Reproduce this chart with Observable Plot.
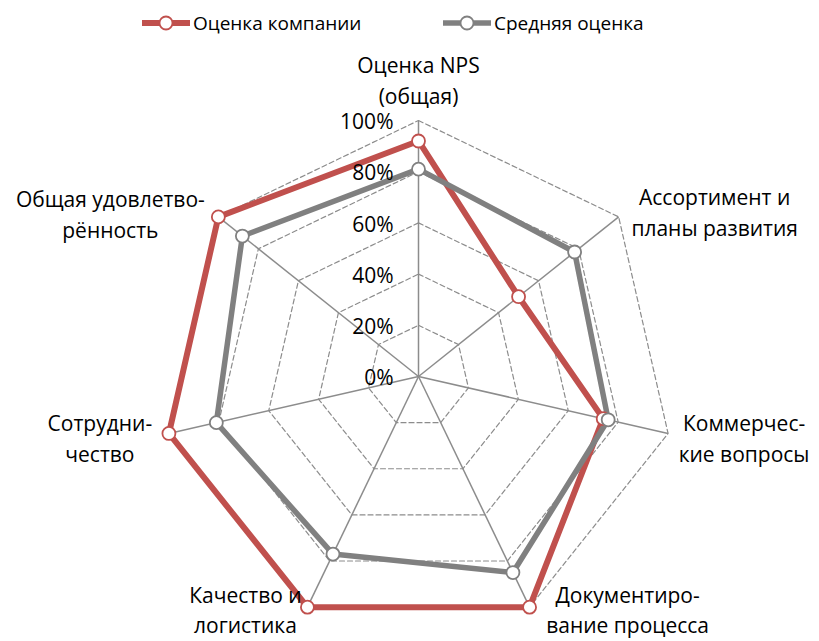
<!DOCTYPE html>
<html><head><meta charset="utf-8">
<script src="https://cdn.jsdelivr.net/npm/d3@7"></script>
<script src="https://cdn.jsdelivr.net/npm/@observablehq/plot@0.6"></script>
<style>
body{margin:0;background:#fff;font-family:"Open Sans",Lato,sans-serif;overflow:hidden;}
#legend{position:relative;height:40px;width:819px;font-size:19px;color:#000;}
.item{position:absolute;top:10px;display:flex;align-items:center;white-space:nowrap;}
.item svg{display:block;margin-right:3px;}
</style>
</head><body>
<div id="legend"></div>
<div id="chart"></div>
<script>
const categories = ["Оценка NPS\n(общая)", "Ассортимент и\nпланы развития", "Коммерчес-\nкие вопросы", "Документиро-\nвание процесса", "Качество и\nлогистика", "Сотрудни-\nчество", "Общая удовлетво-\nрённость"];
const companyScores = [0.92, 0.50, 0.74, 1.00, 1.00, 1.00, 1.00];
const averageScores = [0.81, 0.78, 0.76, 0.85, 0.77, 0.81, 0.88];
const tickLevels = [0, 0.2, 0.4, 0.6, 0.8, 1.0];
const tickLabels = ["0%", "20%", "40%", "60%", "80%", "100%"];
const seriesNames = ["Оценка компании", "Средняя оценка"];
const seriesColors = ["#C0504D", "#808080"];

// layout
const W = 819, H = 601, CX = 418, CY = 336, R = 256;
const labelOffsets = [[0,-42],[96,-6],[76,3],[98,1],[-62,1],[-69,3],[-108,-4]];
const n = categories.length;
const ang = i => i * 2 * Math.PI / n;
const px = (i, v) => Math.sin(ang(i)) * v;
const py = (i, v) => Math.cos(ang(i)) * v;

const seriesRows = [companyScores, averageScores].map((vals, s) =>
  vals.map((v, i) => ({series: seriesNames[s], i, v, x: px(i, v), y: py(i, v)})));
const gridRows = tickLevels.filter(l => l > 0).flatMap(l =>
  categories.map((c, i) => ({level: l, x: px(i, l), y: py(i, l)})));
const spokes = categories.map((c, i) => ({x2: px(i, 1), y2: py(i, 1)}));
const labels = categories.map((c, i) => ({
  text: c,
  x: px(i, 1) + labelOffsets[i][0] / R,
  y: py(i, 1) - labelOffsets[i][1] / R
}));
const ticks = tickLevels.map((l, k) => ({level: l, text: tickLabels[k]}));

const marks = [
  Plot.line(gridRows, {x: "x", y: "y", z: "level", curve: "linear-closed", stroke: "#8c8c8c", strokeWidth: 1.2, strokeDasharray: "5,3"}),
  Plot.link(spokes, {x1: 0, y1: 0, x2: "x2", y2: "y2", stroke: "#8c8c8c", strokeWidth: 1.5}),
];
seriesRows.forEach((rows, s) => {
  marks.push(Plot.line(rows, {x: "x", y: "y", curve: "linear-closed", stroke: seriesColors[s], strokeWidth: s === 0 ? 6 : 5.5, strokeLinejoin: "miter"}));
});
seriesRows.forEach((rows, s) => {
  marks.push(Plot.dot(rows, {x: "x", y: "y", r: 6.5, fill: "white", stroke: seriesColors[s], strokeWidth: 1.8}));
});
marks.push(Plot.text(ticks, {x: 0, y: "level", text: "text", textAnchor: "end", dx: -25, dy: 2, fontSize: 21, fill: "#000"}));
marks.push(Plot.text(labels, {x: "x", y: "y", text: "text", textAnchor: "middle", fontSize: 21, lineHeight: 1.46, fill: "#000"}));

const chart = Plot.plot({
  width: W, height: H,
  margin: 0,
  x: {domain: [-CX / R, (W - CX) / R], range: [0, W], axis: null},
  y: {domain: [-(H - CY) / R, CY / R], range: [H, 0], axis: null},
  style: {fontFamily: "'Open Sans', Lato, sans-serif", background: "white", overflow: "visible"},
  marks
});
document.getElementById("chart").appendChild(chart);

// legend
const legend = document.getElementById("legend");
const lefts = [142, 443];
seriesNames.forEach((name, s) => {
  const d = document.createElement("div");
  d.className = "item";
  d.style.left = lefts[s] + "px";
  d.innerHTML = `<svg width="48" height="16"><line x1="0" y1="8" x2="48" y2="8" stroke="${seriesColors[s]}" stroke-width="${s===0?6:5.5}"/><circle cx="24" cy="8" r="6.5" fill="white" stroke="${seriesColors[s]}" stroke-width="1.8"/></svg><span>${name}</span>`;
  legend.appendChild(d);
});
</script>
</body></html>
